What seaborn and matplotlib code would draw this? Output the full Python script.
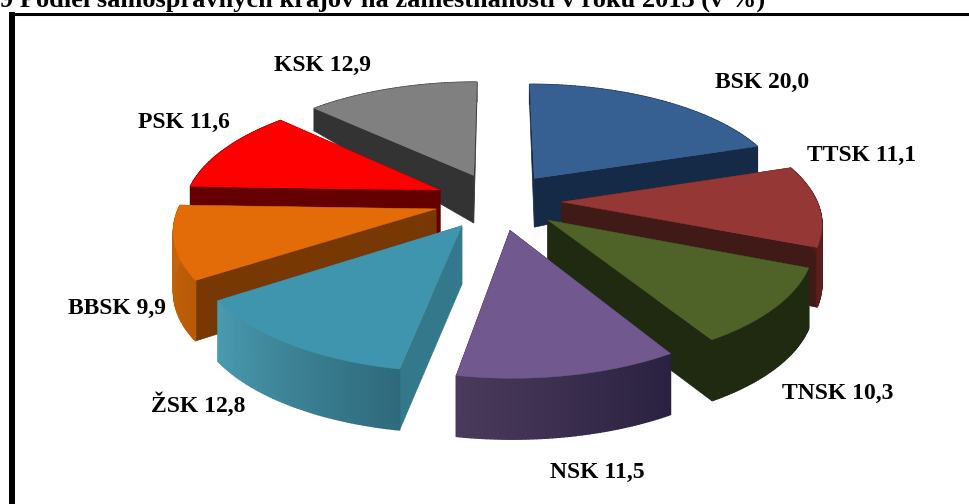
import numpy as np
import matplotlib
matplotlib.use("Agg")
import matplotlib.pyplot as plt
from matplotlib.colors import to_rgb
import seaborn as sns

# data
regions = ["BSK", "TTSK", "TNSK", "NSK", "ŽSK", "BBSK", "PSK", "KSK"]
shares = [20.0, 11.1, 10.3, 11.5, 12.8, 9.9, 11.6, 12.9]
title = "9 Podiel samosprávnych krajov na zamestnanosti v roku 2013 (v %)"

# styles
top_colors = ["#376092", "#953735", "#4f6228", "#71588f", "#3f95ae", "#e36c09", "#ff0000", "#808080"]
side_colors = ["#152a47", "#401a17", "#1f2a10", "#2a2140", "#34788c", "#773803", "#640000", "#333333"]
arc_from = ["#152a47", "#401a17", "#1f2a10", "#2a2140", "#2f6a7c", "#b85a08", "#640000", "#333333"]
arc_to = ["#152a47", "#5c1f1c", "#1f2a10", "#4a3a5c", "#4a9bb0", "#c96409", "#640000", "#333333"]
label_pos = [(762, 82), (862, 155), (838, 393), (597, 472), (198, 405), (117, 308), (184, 122), (323, 65)]

cx, cy = 498, 201
rad_x, rad_y = 255, 115
cam_x, cam_y = 6.5, 6.5
explode = 0.25

sns.set_theme(style="white")
plt.rcParams["font.family"] = ["Liberation Serif", "DejaVu Serif"]


def project(theta, r, mid, z=0.0):
    x = np.sin(theta) * r + np.sin(mid) * explode
    y = np.cos(theta) * r + np.cos(mid) * explode
    sx = cam_x / (cam_x + y)
    sy = cam_y / (cam_y + y)
    # wall height grows fast from the back and levels off at the front
    wall = 40 - 21 * np.tanh(2.27 * y - 0.9)
    return cx + rad_x * x * sx, cy - rad_y * y * sy + z * wall


def mix(c1, c2, t):
    a, b = np.array(to_rgb(c1)), np.array(to_rgb(c2))
    return tuple(a + (b - a) * t)


fig = plt.figure(figsize=(9.7, 5.04), dpi=100)
ax = fig.add_axes([0, 0, 1, 1])
ax.set_xlim(0, 970)
ax.set_ylim(504, 0)
ax.axis("off")

edges = np.cumsum([0] + shares) / sum(shares) * 2 * np.pi
mids = (edges[:-1] + edges[1:]) / 2

# back slices first, front ones paint over them
for i in np.argsort(-np.cos(mids)):
    t0, t1, mid = edges[i], edges[i + 1], mids[i]
    th = np.linspace(t0, t1, 60)
    zo = 2 + (1 - np.cos(mid))
    ax_x, ax_y = project(mid, 0, mid)
    ax_xb, ax_yb = project(mid, 0, mid, 1)

    for t in (t0, t1):
        ex, ey = project(t, 1, mid)
        exb, eyb = project(t, 1, mid, 1)
        ax.fill([ax_x, ex, exb, ax_xb], [ax_y, ey, eyb, ax_yb], color=side_colors[i], lw=0.5, zorder=zo)

    for j in range(len(th) - 1):
        ax1, ay1 = project(th[j], 1, mid)
        ax2, ay2 = project(th[j + 1], 1, mid)
        bx1, by1 = project(th[j], 1, mid, 1)
        bx2, by2 = project(th[j + 1], 1, mid, 1)
        ax.fill([ax1, ax2, bx2, bx1], [ay1, ay2, by2, by1],
                color=mix(arc_from[i], arc_to[i], j / (len(th) - 2)), lw=1, zorder=zo)

    ox, oy = project(th, 1, mid)
    ax.fill(np.r_[ax_x, ox], np.r_[ax_y, oy], color=top_colors[i], lw=0.3, zorder=zo + 0.01)

for name, val, (lx, ly) in zip(regions, shares, label_pos):
    ax.text(lx, ly, f"{name} {val:.1f}".replace(".", ","), ha="center", va="center",
            fontsize=17, fontweight="bold", color="black", zorder=10)

ax.text(765, 7, title, ha="right", va="baseline", fontsize=19, fontweight="bold", color="black", clip_on=False)

# chart frame runs off the right and bottom edge
ax.plot([12, 12], [504, 12], color="black", lw=4.3, solid_capstyle="butt", zorder=11)
ax.plot([10, 970], [13.5, 13.5], color="black", lw=2.2, solid_capstyle="butt", zorder=11)

fig.savefig("out.png", dpi=100)
